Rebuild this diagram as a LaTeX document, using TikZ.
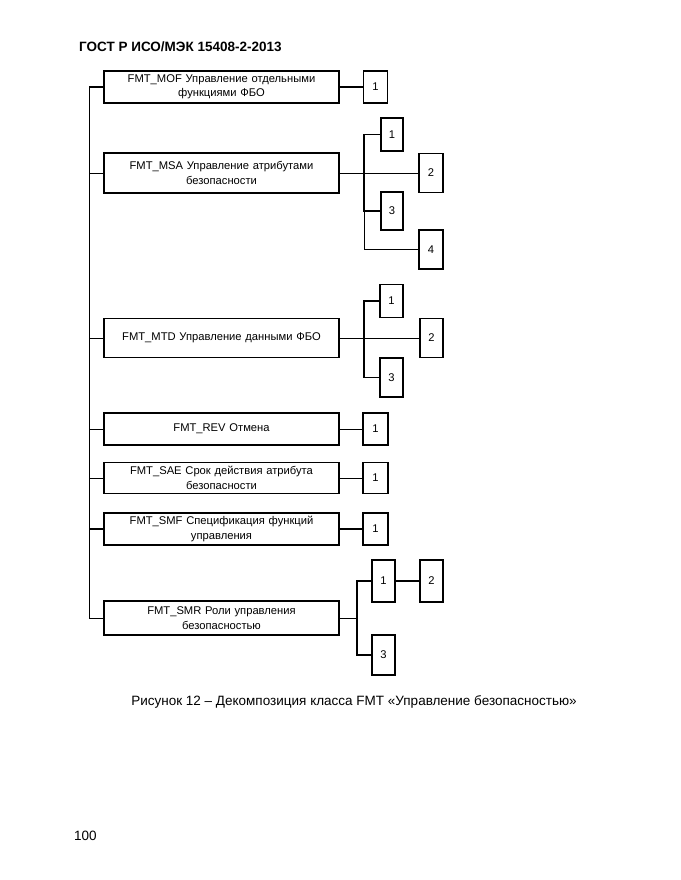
\documentclass[tikz,border=0pt]{standalone}
\usepackage{fontspec}
\setmainfont{Liberation Sans}

\begin{document}
\begin{tikzpicture}[x=1pt,y=-1pt,
	fam/.style={draw, line width=1.3pt, minimum width=235pt, text width=228pt, align=center, inner sep=0pt, font=\fontsize{11.2}{14.5}\selectfont},
	kom/.style={draw, line width=1.3pt, minimum width=24pt, inner sep=0pt, font=\fontsize{11.2}{14}\selectfont},
	ln/.style={line width=0.9pt},
	lnb/.style={line width=1.6pt}]
	\useasboundingbox (0,0) rectangle (680,880);

%Kopf
	\node[anchor=base west, inner sep=0pt, font=\bfseries\fontsize{13.5}{16}\selectfont] (kopf) at (79,52) {ГОСТ Р ИСО/МЭК 15408-2-2013};

%Familien
	\node[fam, minimum height=32pt] (mof) at (221.5,87) {FMT\_MOF Управление отдельными\\функциями ФБО};
	\node[fam, minimum height=40pt] (msa) at (221.5,173) {FMT\_MSA Управление атрибутами\\безопасности};
	\node[fam, minimum height=39pt] (mtd) at (221.5,338) {FMT\_MTD Управление данными ФБО};
	\node[fam, minimum height=32pt] (rev) at (221.5,429) {FMT\_REV Отмена};
	\node[fam, minimum height=31pt] (sae) at (221.5,478) {FMT\_SAE Срок действия атрибута\\безопасности};
	\node[fam, minimum height=32pt] (smf) at (221.5,529) {FMT\_SMF Спецификация функций\\управления};
	\node[fam, minimum height=34pt] (smr) at (221.5,618) {FMT\_SMR Роли управления\\безопасностью};

	%Stamm
	\coordinate (s1) at (89,87);
	\coordinate (s2) at (89,173);
	\coordinate (s3) at (89,338);
	\coordinate (s4) at (89,429);
	\coordinate (s5) at (89,478);
	\coordinate (s6) at (89,529);
	\coordinate (s7) at (89,618);
	\draw[ln] (s1) -- (s7) -- (smr.west);
	\draw[lnb] (s1) -- (mof.west);
	\draw[ln] (s2) -- (msa.west);
	\draw[ln] (s3) -- (mtd.west);
	\draw[ln] (s4) -- (rev.west);
	\draw[ln] (s5) -- (sae.west);
	\draw[lnb] (s6) -- (smf.west);

%Komponenten
	\node[kom, minimum height=32pt] (mof1) at (375.5,87) {1};
	\draw[lnb] (mof.east) -- (mof1.west);

	\node[kom, minimum width=22pt, minimum height=33pt] (msa1) at (392,134.5) {1};
	\node[kom, minimum height=39pt] (msa2) at (431,173) {2};
	\node[kom, minimum width=22pt, minimum height=38pt] (msa3) at (392,211) {3};
	\node[kom, minimum height=39pt] (msa4) at (431,249.5) {4};
	\coordinate (msab) at (364,173);
	\draw[ln] (msa.east) -- (msa2.west);
	\draw[lnb] (msa1.west) -| (msab) |- (msa3.west);
	\draw[ln] (msa3.west -| msab) |- (msa4.west);

	\node[kom, minimum width=23pt, minimum height=33pt] (mtd1) at (391.5,301) {1};
	\node[kom, minimum width=23pt, minimum height=39pt] (mtd2) at (431.5,338) {2};
	\node[kom, minimum width=23pt, minimum height=39pt] (mtd3) at (391.5,377.5) {3};
	\coordinate (mtdb) at (364,338);
	\draw[ln] (mtd.east) -- (mtd2.west);
	\draw[lnb] (mtd1.west) -| (mtdb) |- (mtd3.west);

	\node[kom, minimum width=25pt, minimum height=32pt] (rev1) at (375.5,429) {1};
	\draw[ln] (rev.east) -- (rev1.west);

	\node[kom, minimum width=25pt, minimum height=31pt] (sae1) at (375.5,478) {1};
	\draw[ln] (sae.east) -- (sae1.west);

	\node[kom, minimum width=25pt, minimum height=32pt] (smf1) at (375.5,529) {1};
	\draw[lnb] (smf.east) -- (smf1.west);

	\node[kom, minimum width=23pt, minimum height=42pt] (smr1) at (383.5,581) {1};
	\node[kom, minimum width=23pt, minimum height=42pt] (smr2) at (431.5,581) {2};
	\node[kom, minimum width=23pt, minimum height=40pt] (smr3) at (383.5,655) {3};
	\coordinate (smrb) at (357,618);
	\draw[ln] (smr.east) -- (smrb);
	\draw[lnb] (smr1.west) -| (smrb) |- (smr3.west);
	\draw[lnb] (smr1.east) -- (smr2.west);

%Unterschrift
	\node[anchor=base, inner sep=0pt, font=\fontsize{13.5}{16}\selectfont] (titel) at (354,705) {Рисунок 12 – Декомпозиция класса FMT «Управление безопасностью»};
	\node[anchor=base west, inner sep=0pt, font=\fontsize{13.5}{16}\selectfont] (seite) at (74,840) {100};
\end{tikzpicture}
\end{document}
